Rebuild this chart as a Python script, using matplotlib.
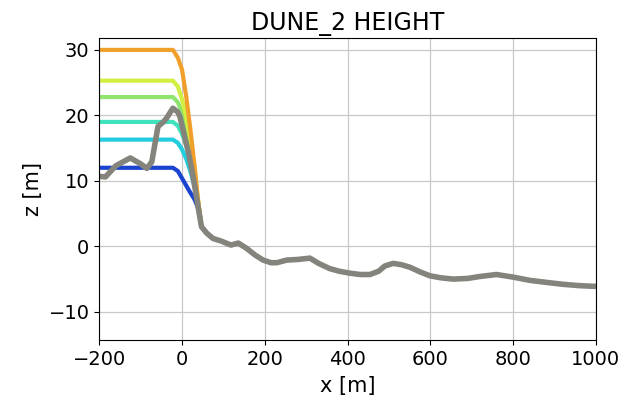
import matplotlib
matplotlib.use("Agg")
import matplotlib.pyplot as plt

# Dune profiles for the different crest heights
x_profile = [-200, -22, -10, 0, 10, 20, 30, 38, 45]
z_h12 = [12.0, 12.0, 11.5, 10.4, 9.3, 8.2, 7.2, 6.0, 4.0]
z_h16 = [16.3, 16.3, 15.8, 14.8, 13.4, 11.5, 9.2, 6.8, 4.0]
z_h19 = [19.0, 19.0, 18.4, 17.2, 15.5, 13.0, 10.0, 7.0, 4.0]
z_h23 = [22.8, 22.8, 22.0, 20.5, 18.0, 15.0, 11.0, 7.2, 4.0]
z_h25 = [25.3, 25.3, 24.4, 22.5, 19.8, 16.5, 12.0, 7.5, 4.0]
z_h30 = [30.0, 30.0, 28.8, 27.0, 23.0, 18.0, 12.5, 7.5, 4.0]
profile_colors = ["#1a44d0", "#22cde0", "#3fe2bd", "#8ee46c", "#d2ee40", "#f0a02a"]

# Original terrain
x_terrain = [-200, -185, -160, -125, -100, -85, -73, -58, -45, -37, -22, -10, -5, 15,
             27, 39, 47, 60, 75, 95, 118, 136, 156, 176, 196, 215, 229, 253, 280,
             309, 330, 357, 380, 406, 430, 454, 475, 490, 510, 530, 551, 575, 599,
             625, 655, 690, 720, 760, 800, 841, 880, 921, 960, 993, 1000]
z_terrain = [10.7, 10.6, 12.3, 13.5, 12.6, 11.9, 12.9, 18.3, 19.0, 19.6, 21.1, 20.5,
             19.8, 14.5, 10.6, 6.0, 3.0, 2.0, 1.2, 0.8, 0.2, 0.5, -0.3, -1.3, -2.1,
             -2.5, -2.5, -2.1, -2.0, -1.8, -2.6, -3.4, -3.8, -4.1, -4.3, -4.3, -3.8,
             -3.0, -2.6, -2.8, -3.2, -3.9, -4.5, -4.8, -5.0, -4.9, -4.6, -4.3, -4.7,
             -5.2, -5.5, -5.8, -6.0, -6.1, -6.1]

x_ticks = [-200, 0, 200, 400, 600, 800, 1000]
y_ticks = [-10, 0, 10, 20, 30]

fig = plt.figure(figsize=(6.24, 3.97), dpi=100)
ax = fig.add_axes([0.159, 0.1436, 0.796, 0.7604])

for z, c in zip([z_h12, z_h16, z_h19, z_h23, z_h25, z_h30], profile_colors):
    ax.plot(x_profile, z, color=c, lw=3.0, solid_capstyle="round")

ax.plot(x_terrain, z_terrain, color="#84847c", lw=4.0, solid_joinstyle="round")

ax.set_xlim(-200, 1000)
ax.set_ylim(-14.3, 31.8)
ax.set_xticks(x_ticks)
ax.set_yticks(y_ticks)
ax.tick_params(labelsize=14)
ax.grid(True, color="#c8c8c8", lw=0.9)
ax.set_axisbelow(True)
ax.set_title("DUNE_2 HEIGHT", fontsize=17)
ax.set_xlabel("x [m]", fontsize=15, labelpad=5)
ax.set_ylabel("z [m]", fontsize=15)

fig.savefig("out.png", dpi=100)
